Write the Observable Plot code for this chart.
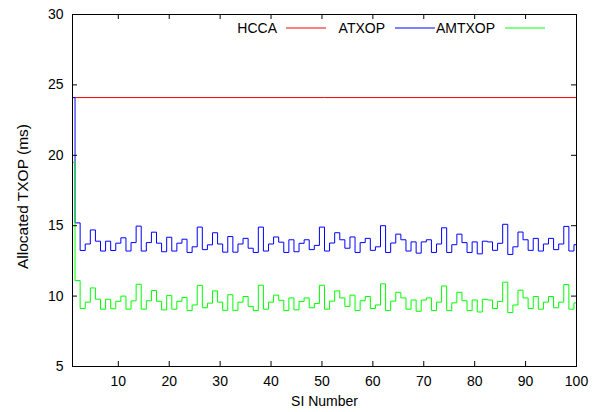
<!DOCTYPE html>
<html><head><meta charset="utf-8">
<script src="https://cdn.jsdelivr.net/npm/d3@7"></script>
<script src="https://cdn.jsdelivr.net/npm/@observablehq/plot@0.6"></script>
<style>body{margin:0;background:#fff}svg{display:block}</style>
</head><body><div id="chart"></div>
<script>
// SI numbers 1..100
const siNumber = d3.range(1, 101);
const seriesNames = ["HCCA", "ATXOP", "AMTXOP"];
const seriesColors = ["#ff0000", "#0000ff", "#00ff00"];
const xTicks = [10, 20, 30, 40, 50, 60, 70, 80, 90, 100];
const yTicks = [5, 10, 15, 20, 25, 30];

const hccaLevel = 24.1;
const atxop = [
  24.1, 15.2, 13.24, 13.7, 14.7, 13.9, 13.2, 13.9, 13.24, 13.76,
  14.14, 13.2, 13.8, 14.97, 13.2, 13.8, 14.54, 13.76, 13.15, 14.18,
  13.2, 13.76, 14.04, 13.1, 13.5, 14.9, 13.3, 13.64, 14.5, 13.7,
  13.12, 14.23, 13.12, 13.7, 14.1, 13.4, 13.1, 14.9, 13.2, 13.7,
  14.2, 13.83, 13.1, 14.0, 13.15, 13.75, 14.0, 13.3, 13.6, 14.9,
  13.2, 13.77, 14.5, 14.0, 13.4, 14.2, 13.1, 13.8, 14.1, 13.25,
  13.5, 15.0, 13.1, 13.77, 14.4, 14.0, 13.2, 13.85, 13.05, 13.85,
  14.0, 13.1, 13.7, 14.85, 13.1, 13.65, 14.4, 13.8, 13.1, 13.85,
  13.0, 13.9, 13.85, 13.25, 13.75, 15.1, 12.96, 13.5, 14.55, 14.0,
  13.25, 14.1, 13.2, 13.7, 14.1, 13.3, 13.7, 14.95, 13.2, 13.65
];
const amtxop = [
  19.5, 11.1, 9.12, 9.57, 10.58, 9.78, 9.07, 9.77, 9.1, 9.63,
  10.0, 9.07, 9.66, 10.84, 9.07, 9.67, 10.4, 9.63, 9.02, 10.05,
  9.07, 9.63, 9.9, 8.97, 9.37, 10.76, 9.17, 9.5, 10.37, 9.57,
  8.99, 10.1, 8.99, 9.57, 9.97, 9.27, 8.97, 10.77, 9.07, 9.57,
  10.07, 9.7, 8.97, 9.87, 9.02, 9.62, 9.87, 9.17, 9.47, 10.77,
  9.07, 9.64, 10.37, 9.87, 9.27, 10.07, 8.97, 9.67, 9.97, 9.12,
  9.37, 10.87, 8.97, 9.64, 10.27, 9.87, 9.07, 9.72, 8.92, 9.72,
  9.87, 8.97, 9.57, 10.72, 8.97, 9.52, 10.27, 9.67, 8.97, 9.72,
  8.87, 9.77, 9.72, 9.12, 9.62, 10.99, 8.83, 9.37, 10.42, 9.87,
  9.12, 9.97, 9.07, 9.57, 9.97, 9.17, 9.57, 10.82, 9.07, 9.52
];

const rows = [
  {si: 1, value: hccaLevel, series: "HCCA"},
  {si: 100, value: hccaLevel, series: "HCCA"},
  ...siNumber.map((s, i) => ({si: s, value: atxop[i], series: "ATXOP"})),
  ...siNumber.map((s, i) => ({si: s, value: amtxop[i], series: "AMTXOP"}))
];

const W = 597, H = 412, mL = 72, mR = 21, mT = 14, mB = 46;
const fw = W - mL - mR, fh = H - mT - mB, tl = 5;

const plot = Plot.plot({
  width: W, height: H,
  marginLeft: mL, marginRight: mR, marginTop: mT, marginBottom: mB,
  style: {fontFamily: '"Liberation Sans", Arial, Helvetica, sans-serif', fontSize: "14px", background: "#fff", color: "#000"},
  x: {domain: [1, 100]},
  y: {domain: [5, 30]},
  color: {domain: seriesNames, range: seriesColors},
  marks: [
    Plot.line(rows, {x: "si", y: "value", stroke: "series", z: "series", curve: "step", strokeWidth: 1}),
    Plot.tickX(xTicks, {x: d => d, insetTop: fh - tl, stroke: "#000"}),
    Plot.tickX(xTicks, {x: d => d, insetBottom: fh - tl, stroke: "#000"}),
    Plot.tickY(yTicks, {y: d => d, insetRight: fw - tl, stroke: "#000"}),
    Plot.tickY(yTicks, {y: d => d, insetLeft: fw - tl, stroke: "#000"}),
    Plot.axisX(xTicks, {tickSize: 0, tickPadding: 10, label: null}),
    Plot.axisY(yTicks, {tickSize: 0, tickPadding: 9, label: null}),
    Plot.frame({stroke: "#000"}),
    Plot.text(["SI Number"], {frameAnchor: "bottom", dy: 39}),
    Plot.text(["Allocated TXOP (ms)"], {frameAnchor: "left", textAnchor: "middle", dx: -49, dy: 6, rotate: -90, fontSize: 15.5})
  ]
});

// legend (gnuplot style key, top right inside the frame)
const svg = d3.select(plot);
const legendY = 28;
const legendLayout = [[277, 286, 326], [385, 395, 435], [495, 505, 545]];
const g = svg.append("g").attr("font-family", '"Liberation Sans", Arial, Helvetica, sans-serif').attr("font-size", 14);
seriesNames.forEach((name, i) => {
  const [te, l1, l2] = legendLayout[i];
  g.append("text").attr("x", te).attr("y", legendY).attr("dy", "0.35em")
    .attr("text-anchor", "end").attr("fill", "#000").text(name);
  g.append("line").attr("x1", l1).attr("x2", l2).attr("y1", legendY).attr("y2", legendY)
    .attr("stroke", seriesColors[i]).attr("stroke-width", 1);
});

document.getElementById("chart").appendChild(plot);
</script>
</body></html>
